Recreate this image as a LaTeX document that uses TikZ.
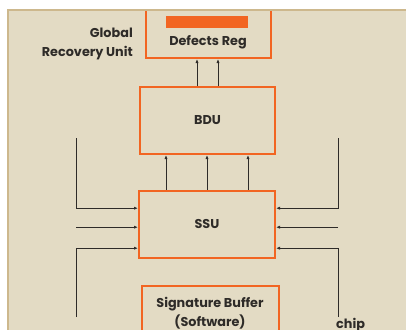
\documentclass[tikz,border=0pt]{standalone}
\usepackage{fontspec}
\setmainfont{Poppins}
\usetikzlibrary{arrows.meta,positioning,calc}
\definecolor{panel}{HTML}{E3DBC4}
\definecolor{rim}{HTML}{CDB88D}
\definecolor{unitorange}{HTML}{F26522}
\definecolor{ink}{HTML}{2E2B28}
\tikzset{
  unit/.style={rectangle, draw=unitorange, line width=2pt, fill=panel, inner sep=2pt, align=center},
  lbl/.style={text=ink, font=\fontsize{12.8}{19.5}\selectfont\bfseries, inner sep=0pt, align=center},
  regbar/.style={rectangle, fill=unitorange, inner sep=0pt, minimum width=82pt, minimum height=12pt},
  arrow/.style={-{Latex[length=4pt,width=3.2pt]}, line width=0.8pt, ink},
  wire/.style={line width=0.8pt, ink}
}
\begin{document}
\begin{tikzpicture}[x=1pt, y=-1pt]
  \useasboundingbox (0,0) rectangle (406,329);
  \clip (0,0) rectangle (406,329);
  \fill[white] (0,0) rectangle (406,329);
  \fill[panel] (8,10) rectangle (420,340);

  % recovery unit
  \node[unit, minimum width=125pt, minimum height=48pt] (dreg) at (208,34) {};
  \node[regbar] (dregbar) at (207,22) {};
  \node[lbl] (dregtxt) at (208,42) {Defects Reg};
  \node[lbl, anchor=east, align=right] (gru) at (133,44) {Global\\Recovery Unit};

  \node[unit, minimum width=135pt, minimum height=67pt] (bdu) at (207.5,120.5) {};
  \node[lbl] at (bdu.center) {BDU};
  \node[unit, minimum width=136pt, minimum height=67pt] (ssu) at (207,224.2) {};
  \node[lbl] at (ssu.center) {SSU};
  \node[unit, minimum width=137pt, minimum height=55pt] (sigbuf) at (210,313.5) {};
  \node[lbl] (sigtxt) at (210,313) {Signature Buffer\\(Software)};

  \draw[rim, line width=2pt] (8,340) -- (8,10) -- (420,10);

  \draw[arrow] ([xshift=-10.5pt]bdu.north) -- ([xshift=-10.5pt]bdu.north |- dreg.south);
  \draw[arrow] ([xshift=10.5pt]bdu.north) -- ([xshift=10.5pt]bdu.north |- dreg.south);
  \foreach \dx in {-41,0,41}
    \draw[arrow] ([xshift=\dx pt]ssu.north) -- ([xshift=\dx pt]ssu.north |- bdu.south);

  % inputs into the SSU
  \coordinate (inl1) at (76,138);
  \coordinate (inl2) at (76,227.2);
  \coordinate (inl3) at (76,317);
  \coordinate (inr1) at (338,138);
  \coordinate (inr2) at (338,227.2);
  \coordinate (inr3) at (338,317);
  \draw[arrow] (inl1) |- ([yshift=16pt]ssu.west);
  \draw[arrow] (inl2) -- (ssu.west |- inl2);
  \draw[arrow] (inl3) |- ([yshift=-24pt]ssu.west);
  \draw[arrow] (inr1) |- ([yshift=16pt]ssu.east);
  \draw[arrow] (inr2) -- (ssu.east |- inr2);
  \draw[arrow] (inr3) |- ([yshift=-24pt]ssu.east);

  \node[lbl, anchor=base west] (chip) at (336,328) {chip};
\end{tikzpicture}
\end{document}
